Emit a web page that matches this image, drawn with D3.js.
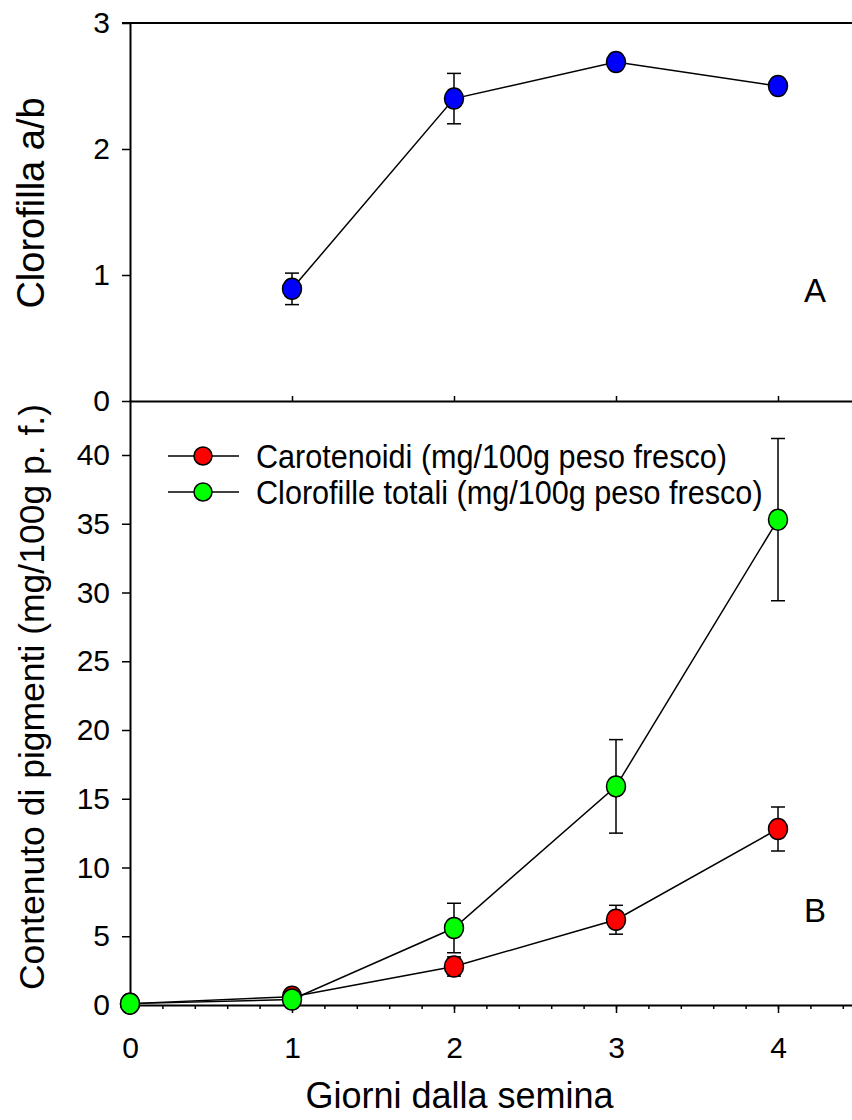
<!DOCTYPE html>
<html>
<head>
<meta charset="utf-8">
<script src="https://cdn.jsdelivr.net/npm/d3@7"></script>
<style>
  body { margin: 0; background: #fff; }
  text { font-family: "Liberation Sans", Arial, sans-serif; fill: #000; }
  .domain { stroke: #000; stroke-width: 2px; }
  .tick line { stroke: #000; stroke-width: 1.5px; }
</style>
</head>
<body>
<div id="chart-container"></div>
<script>
// Data
const daysA = [1, 2, 3, 4]
const ratioAB = [0.89, 2.40, 2.69, 2.50]
const ratioErr = [0.125, 0.20, 0.03, 0.03]

const days = [0, 1, 2, 3, 4]
const carotenoidi = [0.1, 0.6, 2.8, 6.2, 12.8]
const carotenoidiErr = [0.05, 0.1, 0.7, 1.05, 1.6]
const clorofille = [0.1, 0.4, 5.6, 15.9, 35.3]
const clorofilleErr = [0.05, 0.1, 1.8, 3.4, 5.9]

const xTicks = [0, 1, 2, 3, 4]
const yTicksA = [0, 1, 2, 3]
const yTicksB = [0, 5, 10, 15, 20, 25, 30, 35, 40]

const legendLabels = ["Carotenoidi (mg/100g peso fresco)", "Clorofille totali (mg/100g peso fresco)"]
const colors = ["#ff0000", "#00ff00"]

const W = 852, H = 1120

const svg = d3.select("#chart-container")
  .append("svg")
  .attr("width", W)
  .attr("height", H)

// scales
const x = d3.scaleLinear().domain([0, 4.5]).range([130, 130 + 4.5 * 162])
const yA = d3.scaleLinear().domain([0, 3]).range([401, 23])
const yB = d3.scaleLinear().domain([0, 44]).range([1005, 1005 - 44 * 13.75])

// ---- Panel A ----
svg.append("g")
  .attr("transform", `translate(${x(0)},0)`)
  .call(d3.axisLeft(yA).tickValues(yTicksA).tickFormat(d3.format("d")).tickSize(8).tickPadding(12).tickSizeOuter(0))
  .call(g => g.selectAll("text").style("font-size", "30px"))

// top frame line
svg.append("line")
  .attr("x1", x(0) - 8).attr("x2", W)
  .attr("y1", yA(3)).attr("y2", yA(3))
  .attr("stroke", "#000").attr("stroke-width", 2)

svg.append("g")
  .attr("transform", `translate(0,${yA(0)})`)
  .call(d3.axisTop(x).tickValues([1, 2, 3, 4]).tickFormat("").tickSize(5).tickSizeOuter(0))

const lineA = d3.line().x((d, i) => x(daysA[i])).y(d => yA(d))

svg.append("path")
  .datum(ratioAB)
  .attr("d", lineA)
  .attr("fill", "none")
  .attr("stroke", "#000")
  .attr("stroke-width", 1.5)

const errA = svg.append("g")
ratioAB.forEach((v, i) => {
  const cx = x(daysA[i])
  const top = yA(v + ratioErr[i]), bot = yA(v - ratioErr[i])
  errA.append("line").attr("x1", cx).attr("x2", cx).attr("y1", top).attr("y2", bot)
  errA.append("line").attr("x1", cx - 7).attr("x2", cx + 7).attr("y1", top).attr("y2", top)
  errA.append("line").attr("x1", cx - 7).attr("x2", cx + 7).attr("y1", bot).attr("y2", bot)
})
errA.selectAll("line").attr("stroke", "#000").attr("stroke-width", 1.5)

svg.selectAll(".ptA")
  .data(ratioAB)
  .enter().append("ellipse")
  .attr("class", "ptA")
  .attr("cx", (d, i) => x(daysA[i]))
  .attr("cy", d => yA(d))
  .attr("rx", 9.5).attr("ry", 10.5)
  .attr("fill", "#0000ff")
  .attr("stroke", "#000")
  .attr("stroke-width", 1.5)

svg.append("text")
  .attr("x", 815).attr("y", 302)
  .attr("text-anchor", "middle")
  .style("font-size", "33px")
  .text("A")

// ---- Panel B ----
svg.append("g")
  .attr("transform", `translate(${x(0)},0)`)
  .call(d3.axisLeft(yB).tickValues(yTicksB).tickFormat(d3.format("d")).tickSize(8).tickPadding(12).tickSizeOuter(0))
  .call(g => g.selectAll("text").style("font-size", "30px"))

svg.append("g")
  .attr("transform", `translate(0,${yB(0)})`)
  .call(d3.axisBottom(x).tickValues(d3.range(0, 4.41, 0.2)).tickFormat("").tickSize(4).tickSizeOuter(0))

svg.append("g")
  .attr("transform", `translate(0,${yB(0)})`)
  .call(d3.axisBottom(x).tickValues(xTicks).tickFormat(d3.format("d")).tickSize(8).tickPadding(24).tickSizeOuter(0))
  .call(g => g.select(".domain").remove())
  .call(g => g.selectAll("text").style("font-size", "30px"))

const seriesB = [
  { vals: carotenoidi, err: carotenoidiErr, color: colors[0] },
  { vals: clorofille, err: clorofilleErr, color: colors[1] }
]

const lineB = d3.line().x((d, i) => x(days[i])).y(d => yB(d))

seriesB.forEach(s => {
  svg.append("path")
    .datum(s.vals)
    .attr("d", lineB)
    .attr("fill", "none")
    .attr("stroke", "#000")
    .attr("stroke-width", 1.5)
})

seriesB.forEach(s => {
  const g = svg.append("g")
  s.vals.forEach((v, i) => {
    const cx = x(days[i])
    const top = yB(v + s.err[i]), bot = yB(Math.max(0, v - s.err[i]))
    g.append("line").attr("x1", cx).attr("x2", cx).attr("y1", top).attr("y2", bot)
    g.append("line").attr("x1", cx - 7).attr("x2", cx + 7).attr("y1", top).attr("y2", top)
    g.append("line").attr("x1", cx - 7).attr("x2", cx + 7).attr("y1", bot).attr("y2", bot)
  })
  g.selectAll("line").attr("stroke", "#000").attr("stroke-width", 1.5)
})

seriesB.forEach(s => {
  svg.append("g").selectAll("ellipse")
    .data(s.vals)
    .enter().append("ellipse")
    .attr("cx", (d, i) => x(days[i]))
    .attr("cy", d => yB(d))
    .attr("rx", 9.5).attr("ry", 10.5)
    .attr("fill", s.color)
    .attr("stroke", "#000")
    .attr("stroke-width", 1.5)
})

// legend
const legend = svg.append("g")
legendLabels.forEach((lab, i) => {
  const ly = 456 + i * 36
  legend.append("line")
    .attr("x1", 168).attr("x2", 239).attr("y1", ly).attr("y2", ly)
    .attr("stroke", "#000").attr("stroke-width", 1.5)
  legend.append("circle")
    .attr("cx", 203).attr("cy", ly).attr("r", 9)
    .attr("fill", colors[i]).attr("stroke", "#000").attr("stroke-width", 1.5)
  legend.append("text")
    .attr("transform", `translate(256,${ly + 12}) scale(0.9,1)`)
    .style("font-size", "34px")
    .text(lab)
})

svg.append("text")
  .attr("x", 815).attr("y", 922)
  .attr("text-anchor", "middle")
  .style("font-size", "33px")
  .text("B")

// axis titles
svg.append("text")
  .attr("x", (305 + 614) / 2).attr("y", 1108)
  .attr("text-anchor", "middle")
  .style("font-size", "36px")
  .text("Giorni dalla semina")

svg.append("text")
  .attr("transform", "translate(44,203) rotate(-90)")
  .attr("text-anchor", "middle")
  .style("font-size", "38px")
  .text("Clorofilla a/b")

svg.append("text")
  .attr("transform", "translate(44,697) rotate(-90)")
  .attr("text-anchor", "middle")
  .style("font-size", "35.5px")
  .text("Contenuto di pigmenti (mg/100g p. f.)")
</script>
</body>
</html>
